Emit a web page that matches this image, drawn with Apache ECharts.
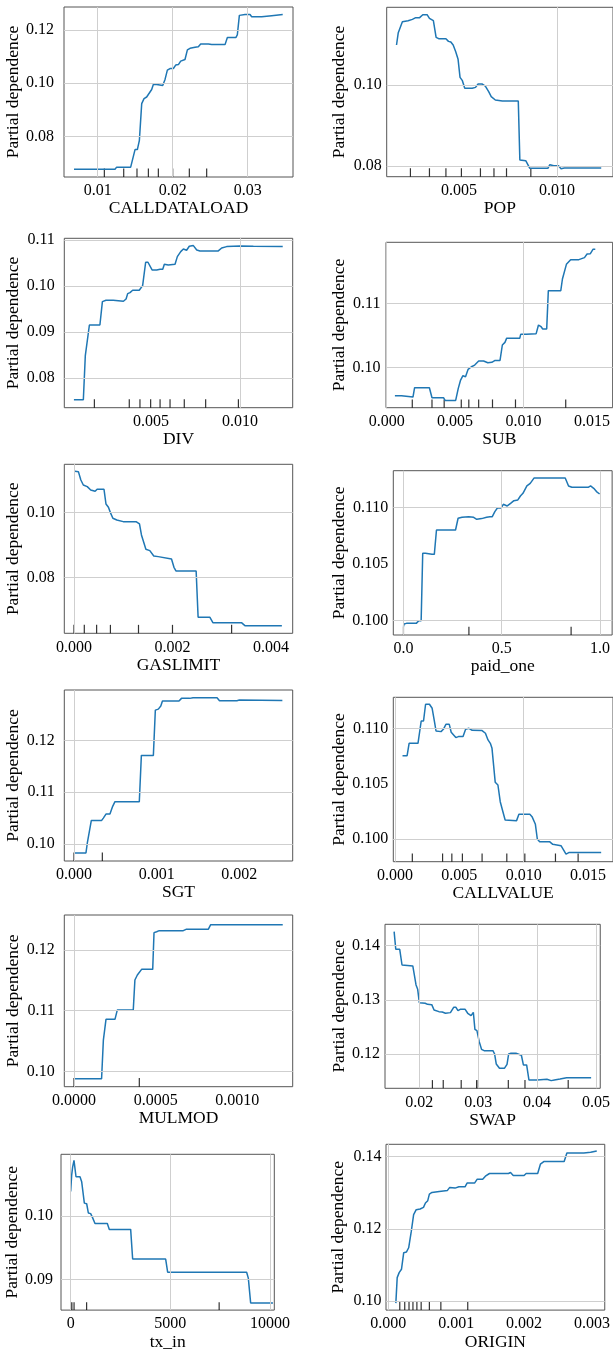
<!DOCTYPE html>
<html>
<head>
<meta charset="utf-8">
<script src="https://cdn.jsdelivr.net/npm/echarts@6/dist/echarts.min.js"></script>
<style>
  html, body { margin: 0; padding: 0; background: #fff; }
  #main { width: 613px; height: 1352px; }
</style>
</head>
<body>
<div id="main"></div>
<script>
// ---- data ----
const features = ['CALLDATALOAD', 'POP', 'DIV', 'SUB', 'GASLIMIT', 'paid_one',
  'SGT', 'CALLVALUE', 'MULMOD', 'SWAP', 'tx_in', 'ORIGIN']

const calldataloadX = [0.00684, 0.01231, 0.01253, 0.01440, 0.01498, 0.01529, 0.01556, 0.01587, 0.01618, 0.01653, 0.0172, 0.01742, 0.01787, 0.01809, 0.01867, 0.01898, 0.01929, 0.01964, 0.02009, 0.0204, 0.02076, 0.02107, 0.02164, 0.02196, 0.02231, 0.02298, 0.02342, 0.02373, 0.02476, 0.0252, 0.02698, 0.02729, 0.02844, 0.02862, 0.02889, 0.02964, 0.03031, 0.03053, 0.03187, 0.03209, 0.0332, 0.03342, 0.03467]
const calldataloadY = [0.0676, 0.0676, 0.0684, 0.0684, 0.0750, 0.0750, 0.0785, 0.0923, 0.0942, 0.0948, 0.0976, 0.0995, 0.0995, 0.0991, 0.0991, 0.1014, 0.1049, 0.1055, 0.1055, 0.1068, 0.1070, 0.1083, 0.1089, 0.1125, 0.1131, 0.1135, 0.1137, 0.1147, 0.1147, 0.1145, 0.1145, 0.1172, 0.1172, 0.1182, 0.1255, 0.1258, 0.1258, 0.1250, 0.1250, 0.1254, 0.1254, 0.1258, 0.1258]
const calldataloadDeciles = [0.01089, 0.01347, 0.01524, 0.01676, 0.01809, 0.02, 0.02222, 0.02453]

const popX = [0.00181, 0.0019, 0.00198, 0.00211, 0.0024, 0.00262, 0.00279, 0.00299, 0.00315, 0.00337, 0.00349, 0.00369, 0.00383, 0.00396, 0.00433, 0.00446, 0.00458, 0.0047, 0.00483, 0.00495, 0.00505, 0.00517, 0.00529, 0.00567, 0.00584, 0.00597, 0.00617, 0.00634, 0.00651, 0.00664, 0.00685, 0.00721, 0.00802, 0.0081, 0.0084, 0.00861, 0.00953, 0.00963, 0.00983, 0.01007, 0.0102, 0.01037, 0.01225]
const popY = [0.10988, 0.11292, 0.11333, 0.11564, 0.11588, 0.11621, 0.11663, 0.11663, 0.11737, 0.11737, 0.11646, 0.11588, 0.11177, 0.11144, 0.11144, 0.11078, 0.11062, 0.10988, 0.10823, 0.10634, 0.10189, 0.10107, 0.09918, 0.09918, 0.09942, 0.10025, 0.10025, 0.09975, 0.09835, 0.09712, 0.0963, 0.09605, 0.09605, 0.08148, 0.08132, 0.07942, 0.07942, 0.08033, 0.08008, 0.08008, 0.07934, 0.0795, 0.0795]
const popDeciles = [0.00252, 0.00349, 0.00433, 0.00512, 0.00609, 0.00678, 0.00742, 0.00866]

const divX = [0.00067, 0.0012, 0.00131, 0.00142, 0.00154, 0.00213, 0.00227, 0.00247, 0.00288, 0.00298, 0.00345, 0.0036, 0.00369, 0.00382, 0.00397, 0.00434, 0.00453, 0.00461, 0.0047, 0.00483, 0.00494, 0.00506, 0.00532, 0.00551, 0.00566, 0.00575, 0.00597, 0.00635, 0.00648, 0.00667, 0.00682, 0.007, 0.00715, 0.00738, 0.00757, 0.00775, 0.00878, 0.00897, 0.00925, 0.01, 0.01075, 0.0124]
const divY = [0.07524, 0.07524, 0.08482, 0.08497, 0.0915, 0.0915, 0.09659, 0.09688, 0.09688, 0.09666, 0.09666, 0.09717, 0.09833, 0.09855, 0.09906, 0.09906, 0.10007, 0.10022, 0.10516, 0.10516, 0.10559, 0.10349, 0.10349, 0.10363, 0.10363, 0.10472, 0.10458, 0.10472, 0.10639, 0.10748, 0.10806, 0.10777, 0.10864, 0.10879, 0.10784, 0.10763, 0.10763, 0.10828, 0.10857, 0.10871, 0.10864, 0.10857]
const divDeciles = [0.00182, 0.00378, 0.00438, 0.00498, 0.00551, 0.00607, 0.00687, 0.00807, 0.00991]

const subX = [0.0006, 0.00108, 0.0012, 0.00192, 0.00204, 0.00312, 0.00331, 0.00415, 0.00427, 0.00504, 0.00523, 0.0054, 0.00557, 0.00576, 0.00595, 0.00619, 0.00643, 0.00672, 0.00708, 0.00739, 0.00768, 0.00792, 0.00828, 0.00845, 0.00864, 0.00876, 0.00972, 0.00979, 0.0102, 0.01032, 0.01092, 0.01109, 0.01128, 0.0114, 0.01169, 0.01181, 0.01272, 0.01284, 0.01296, 0.01313, 0.01325, 0.01344, 0.01404, 0.01416, 0.01445, 0.01464, 0.01488, 0.01507, 0.01524]
const subY = [0.09557, 0.09557, 0.09536, 0.09536, 0.09682, 0.09682, 0.09526, 0.09526, 0.09484, 0.09484, 0.09672, 0.09802, 0.0987, 0.09854, 0.09969, 0.1001, 0.10036, 0.10099, 0.10099, 0.10073, 0.10078, 0.10109, 0.10109, 0.10349, 0.1039, 0.10453, 0.10453, 0.10516, 0.10516, 0.10526, 0.10526, 0.10661, 0.10635, 0.10599, 0.10599, 0.11198, 0.11198, 0.1138, 0.11391, 0.11609, 0.11625, 0.11682, 0.11682, 0.11703, 0.11714, 0.11771, 0.11776, 0.11844, 0.11844]
const subDeciles = [0.00187, 0.00331, 0.0042, 0.00545, 0.006, 0.00672, 0.00773, 0.00941, 0.01308]

const gaslimitX = [0.00002, 0.00009, 0.00014, 0.00019, 0.00027, 0.00034, 0.00043, 0.00047, 0.00051, 0.00061, 0.00065, 0.0007, 0.00074, 0.00079, 0.00087, 0.001, 0.00126, 0.00133, 0.00137, 0.00141, 0.00146, 0.00154, 0.00162, 0.00171, 0.00175, 0.00198, 0.00203, 0.00207, 0.00248, 0.00252, 0.00276, 0.00282, 0.0034, 0.00347, 0.00422]
const gaslimitY = [0.11262, 0.11251, 0.10995, 0.10841, 0.1079, 0.10687, 0.10646, 0.10708, 0.10728, 0.10708, 0.10256, 0.10154, 0.0999, 0.09815, 0.09764, 0.09713, 0.09713, 0.09641, 0.09303, 0.09251, 0.08862, 0.08821, 0.08656, 0.08636, 0.08585, 0.08564, 0.08308, 0.08195, 0.08195, 0.06769, 0.06769, 0.06605, 0.06605, 0.06513, 0.06513]
const gaslimitDeciles = [0, 0.00021, 0.00046, 0.00074, 0.00131, 0.002, 0.0032]

const paidOneX = [0, 0.0033, 0.015, 0.065, 0.078, 0.09, 0.098, 0.112, 0.145, 0.157, 0.168, 0.265, 0.278, 0.298, 0.332, 0.357, 0.373, 0.398, 0.423, 0.44, 0.452, 0.465, 0.478, 0.498, 0.508, 0.528, 0.545, 0.562, 0.582, 0.595, 0.608, 0.628, 0.645, 0.665, 0.823, 0.84, 0.857, 0.94, 0.952, 0.968, 0.982, 0.998]
const paidOneY = [0.09944, 0.09968, 0.09973, 0.09973, 0.09997, 0.09997, 0.10593, 0.10593, 0.10584, 0.10584, 0.10799, 0.10799, 0.10903, 0.10912, 0.10917, 0.10912, 0.10894, 0.109, 0.10912, 0.10917, 0.10917, 0.10962, 0.10994, 0.10994, 0.11027, 0.11012, 0.11035, 0.11059, 0.11065, 0.111, 0.11124, 0.11189, 0.11212, 0.1126, 0.1126, 0.11189, 0.11177, 0.11177, 0.11189, 0.11168, 0.11139, 0.11118]
const paidOneDeciles = [0, 0.333, 0.853]

const sgtX = [0, 0.000145, 0.000161, 0.000185, 0.00021, 0.000335, 0.000355, 0.000387, 0.000435, 0.000468, 0.000496, 0.00079, 0.000815, 0.00096, 0.000984, 0.00102, 0.00105, 0.00107, 0.00127, 0.0013, 0.0014, 0.00144, 0.00173, 0.00176, 0.00197, 0.002, 0.00252]
const sgtY = [0.09825, 0.09825, 0.10013, 0.10013, 0.10455, 0.10455, 0.105, 0.10578, 0.10578, 0.10727, 0.10818, 0.10818, 0.11714, 0.11714, 0.12591, 0.1261, 0.12669, 0.12766, 0.12766, 0.12818, 0.12818, 0.12831, 0.12831, 0.12773, 0.12773, 0.12786, 0.12779]
const sgtDeciles = [0, 0.000343]

const callvalueX = [0.000588, 0.000945, 0.0011, 0.00179, 0.00192, 0.00204, 0.00222, 0.00238, 0.00268, 0.00289, 0.00307, 0.00319, 0.00358, 0.00376, 0.00396, 0.00422, 0.00437, 0.00452, 0.00473, 0.00493, 0.00529, 0.00549, 0.00575, 0.006, 0.00677, 0.00703, 0.00723, 0.00741, 0.00754, 0.00766, 0.00779, 0.008, 0.00818, 0.00835, 0.00856, 0.00945, 0.00963, 0.01048, 0.01065, 0.01091, 0.01106, 0.01124, 0.01201, 0.01226, 0.0129, 0.01329, 0.01354, 0.01602]
const callvalueY = [0.10753, 0.10753, 0.10864, 0.10864, 0.10849, 0.11066, 0.11066, 0.11217, 0.11217, 0.11181, 0.1106, 0.10976, 0.1097, 0.10991, 0.11036, 0.11036, 0.10964, 0.10958, 0.10916, 0.10925, 0.10925, 0.10991, 0.11, 0.10982, 0.10979, 0.10955, 0.10895, 0.10864, 0.10819, 0.10804, 0.10512, 0.10488, 0.10337, 0.10262, 0.10172, 0.10166, 0.10223, 0.10223, 0.10202, 0.10133, 0.1, 0.09976, 0.09976, 0.09952, 0.0994, 0.09864, 0.09879, 0.09879]
const callvalueDeciles = [0.00135, 0.0037, 0.00442, 0.00524, 0.00677, 0.00869, 0.01009, 0.01247, 0.01423]

const mulmodX = [0, 0.000169, 0.00018, 0.000196, 0.000251, 0.000265, 0.000363, 0.000373, 0.000388, 0.000414, 0.000482, 0.00049, 0.000506, 0.000522, 0.000669, 0.000686, 0.000822, 0.000837, 0.001278]
const mulmodY = [0.09879, 0.09879, 0.10516, 0.10857, 0.10857, 0.1101, 0.1101, 0.11505, 0.11588, 0.11681, 0.11681, 0.12286, 0.12302, 0.12319, 0.12319, 0.12341, 0.12341, 0.12418, 0.12418]
const mulmodDeciles = [0, 0.0004]

const swapX = [0.01572, 0.016, 0.01667, 0.01706, 0.01889, 0.01917, 0.01944, 0.01972, 0.02, 0.021, 0.02139, 0.02211, 0.0225, 0.02333, 0.02389, 0.02444, 0.02528, 0.02583, 0.02622, 0.02656, 0.02694, 0.02778, 0.02822, 0.02878, 0.02917, 0.02944, 0.02978, 0.03017, 0.03056, 0.031, 0.0325, 0.03278, 0.03306, 0.03361, 0.03444, 0.03489, 0.03517, 0.03556, 0.03639, 0.03667, 0.03733, 0.03767, 0.03822, 0.03861, 0.04, 0.04167, 0.04239, 0.04294, 0.04389, 0.045, 0.04917]
const swapY = [0.14258, 0.13933, 0.13933, 0.13644, 0.13626, 0.13626, 0.13276, 0.13196, 0.12951, 0.12939, 0.1292, 0.12914, 0.12816, 0.12785, 0.12779, 0.12755, 0.12767, 0.12865, 0.12865, 0.12804, 0.12828, 0.12828, 0.12755, 0.12712, 0.12773, 0.1246, 0.12436, 0.12233, 0.12092, 0.12067, 0.12067, 0.12006, 0.11822, 0.11742, 0.11742, 0.11816, 0.12006, 0.12018, 0.12018, 0.11982, 0.11982, 0.11804, 0.11804, 0.11528, 0.11528, 0.1154, 0.11515, 0.11528, 0.11546, 0.1157, 0.1157]
const swapDeciles = [0.02222, 0.02406, 0.02711, 0.02972, 0.03, 0.03511, 0.03794, 0.04528]

const txInX = [0, 50, 100, 167, 268, 468, 552, 635, 686, 803, 886, 1003, 1104, 1221, 1839, 1940, 3010, 3110, 4766, 4866, 8829, 8913, 9030, 10150]
const txInY = [0.10391, 0.10651, 0.10781, 0.10885, 0.10625, 0.10625, 0.10547, 0.1052, 0.10208, 0.10198, 0.10052, 0.10042, 0.09974, 0.09885, 0.09885, 0.09792, 0.09792, 0.09323, 0.09323, 0.09115, 0.09115, 0.09021, 0.0863, 0.0863]
const txInDeciles = [0, 60, 170, 800, 7450]

const originX = [0.000111, 0.000131, 0.00016, 0.000194, 0.000227, 0.000266, 0.0003, 0.000339, 0.000373, 0.000411, 0.000469, 0.000518, 0.000547, 0.000581, 0.000605, 0.000643, 0.00075, 0.000871, 0.000905, 0.000982, 0.00104, 0.00113, 0.00116, 0.00127, 0.00131, 0.00139, 0.00143, 0.00149, 0.00177, 0.0018, 0.00184, 0.002, 0.00203, 0.0022, 0.00224, 0.00229, 0.00259, 0.00263, 0.00288, 0.00298, 0.00307]
const originY = [0.09945, 0.10651, 0.10789, 0.10881, 0.1134, 0.11358, 0.11477, 0.11936, 0.12394, 0.12532, 0.1255, 0.12596, 0.12716, 0.1278, 0.12963, 0.13009, 0.13037, 0.13064, 0.13147, 0.13128, 0.13165, 0.13165, 0.13266, 0.13266, 0.13376, 0.13376, 0.13459, 0.13532, 0.13532, 0.1356, 0.13477, 0.13477, 0.13532, 0.13532, 0.13789, 0.13862, 0.13862, 0.14101, 0.14101, 0.14119, 0.14156]
const originDeciles = [0.000169, 0.000242, 0.000305, 0.000363, 0.000421, 0.000484, 0.000605, 0.000774, 0.00117]

const xValues = [calldataloadX, popX, divX, subX, gaslimitX, paidOneX, sgtX, callvalueX, mulmodX, swapX, txInX, originX]
const yValues = [calldataloadY, popY, divY, subY, gaslimitY, paidOneY, sgtY, callvalueY, mulmodY, swapY, txInY, originY]
const deciles = [calldataloadDeciles, popDeciles, divDeciles, subDeciles, gaslimitDeciles, paidOneDeciles,
  sgtDeciles, callvalueDeciles, mulmodDeciles, swapDeciles, txInDeciles, originDeciles]

// tick labels
const xTicks = [
  [0.01, 0.02, 0.03], [0.005, 0.010], [0.005, 0.010], [0, 0.005, 0.010, 0.015],
  [0, 0.002, 0.004], [0, 0.5, 1.0], [0, 0.001, 0.002], [0, 0.005, 0.010, 0.015],
  [0, 0.0005, 0.0010], [0.02, 0.03, 0.04, 0.05], [0, 5000, 10000], [0, 0.001, 0.002, 0.003]
]
const xDecimals = [2, 3, 3, 3, 3, 1, 3, 3, 4, 2, 0, 3]
const yTicks = [
  [0.08, 0.10, 0.12], [0.08, 0.10], [0.08, 0.09, 0.10, 0.11], [0.10, 0.11],
  [0.08, 0.10], [0.100, 0.105, 0.110], [0.10, 0.11, 0.12], [0.100, 0.105, 0.110],
  [0.10, 0.11, 0.12], [0.12, 0.13, 0.14], [0.09, 0.10], [0.10, 0.12, 0.14]
]
const yDecimals = [2, 2, 2, 2, 2, 3, 2, 3, 2, 2, 2, 2]

// axis ranges
const xRanges = [
  [0.00551, 0.03604], [0.00131, 0.01285], [0.00013, 0.01296], [-0.00005, 0.01651],
  [-0.000196, 0.00444], [-0.0517, 1.0617], [-0.000117, 0.002645], [-0.000128, 0.01694],
  [-0.0000592, 0.001339], [0.01417, 0.05072], [-485, 10217], [-0.0000339, 0.003188]
]
const yRanges = [
  [0.0647, 0.12865], [0.07736, 0.11919], [0.07349, 0.11038], [0.0937, 0.11953],
  [0.06277, 0.11477], [0.0987, 0.11324], [0.09669, 0.1298], [0.09795, 0.1128],
  [0.09747, 0.12577], [0.11374, 0.14393], [0.08516, 0.1098], [0.09752, 0.1434]
]

// plot boxes in px: left, top, right, bottom, x centre of the y name, y label gap
const boxes = [
  [64, 7, 293, 177, 17, 10], [386.7, 7.3, 616, 176.7, 339, 5],
  [64.3, 238.3, 292.7, 407.7, 17, 9.5], [386, 242.3, 616, 407.7, 339, 5.5],
  [64.3, 464.3, 292.7, 633.3, 17, 9.5], [393.3, 470.7, 616, 635, 339, 5],
  [64.3, 690, 292.7, 861, 17, 9.5], [393.3, 697.3, 616, 861.7, 339, 5],
  [64.3, 915, 292.7, 1086.7, 17, 9.5], [385, 924.3, 604.3, 1088.3, 339, 5],
  [61, 1154.3, 274.3, 1313.3, 15, 8], [386, 1144.3, 608, 1311, 338, 4.5]
]

const font = "'Liberation Serif', 'DejaVu Serif', serif"
const myChart = echarts.init(document.getElementById('main'))

const grid = []
const xAxis = []
const yAxis = []
const series = []

features.forEach((name, i) => {
  const b = boxes[i]
  const h = b[3] - b[1]
  grid.push({
    left: b[0], top: b[1], width: b[2] - b[0], height: h,
    show: true, borderColor: '#555', borderWidth: 1, backgroundColor: 'transparent'
  })
  xAxis.push({
    type: 'value', gridIndex: i, min: xRanges[i][0], max: xRanges[i][1],
    name: name, nameLocation: 'middle', nameGap: 21,
    nameTextStyle: { fontFamily: font, fontSize: 17.5, color: '#000' },
    axisLine: { show: false }, axisTick: { show: false }, splitLine: { show: false },
    axisLabel: {
      customValues: xTicks[i], margin: 6, fontFamily: font, fontSize: 16, color: '#000',
      formatter: v => Number(v).toFixed(xDecimals[i])
    }
  })
  yAxis.push({
    type: 'value', gridIndex: i, min: yRanges[i][0], max: yRanges[i][1],
    name: 'Partial dependence', nameLocation: 'middle', nameRotate: 90,
    nameGap: b[0] - b[4] - 9,
    nameTextStyle: { fontFamily: font, fontSize: 17.5, color: '#000' },
    axisLine: { show: false }, axisTick: { show: false }, splitLine: { show: false },
    axisLabel: {
      customValues: yTicks[i], margin: b[5], fontFamily: font, fontSize: 16, color: '#000',
      formatter: v => Number(v).toFixed(yDecimals[i])
    }
  })
  // grid lines + decile ticks
  series.push({
    type: 'scatter', xAxisIndex: i, yAxisIndex: i, z: 1, silent: true,
    symbol: 'rect', symbolSize: [1.2, h * 0.05], symbolOffset: [0, -h * 0.025],
    itemStyle: { color: '#000' },
    data: deciles[i].map(v => [v, yRanges[i][0]]),
    markLine: {
      silent: true, symbol: ['none', 'none'], label: { show: false }, animation: false,
      lineStyle: { color: '#cfcfcf', type: 'solid', width: 1 },
      data: xTicks[i].map(v => ({ xAxis: v })).concat(yTicks[i].map(v => ({ yAxis: v })))
    }
  })
  series.push({
    type: 'line', xAxisIndex: i, yAxisIndex: i, z: 3,
    showSymbol: false, symbol: 'none',
    lineStyle: { color: '#1f77b4', width: 1.5 },
    data: xValues[i].map((x, k) => [x, yValues[i][k]])
  })
})

const option = {
  animation: false,
  backgroundColor: '#fff',
  grid: grid,
  xAxis: xAxis,
  yAxis: yAxis,
  series: series
}

myChart.setOption(option)
</script>
</body>
</html>
